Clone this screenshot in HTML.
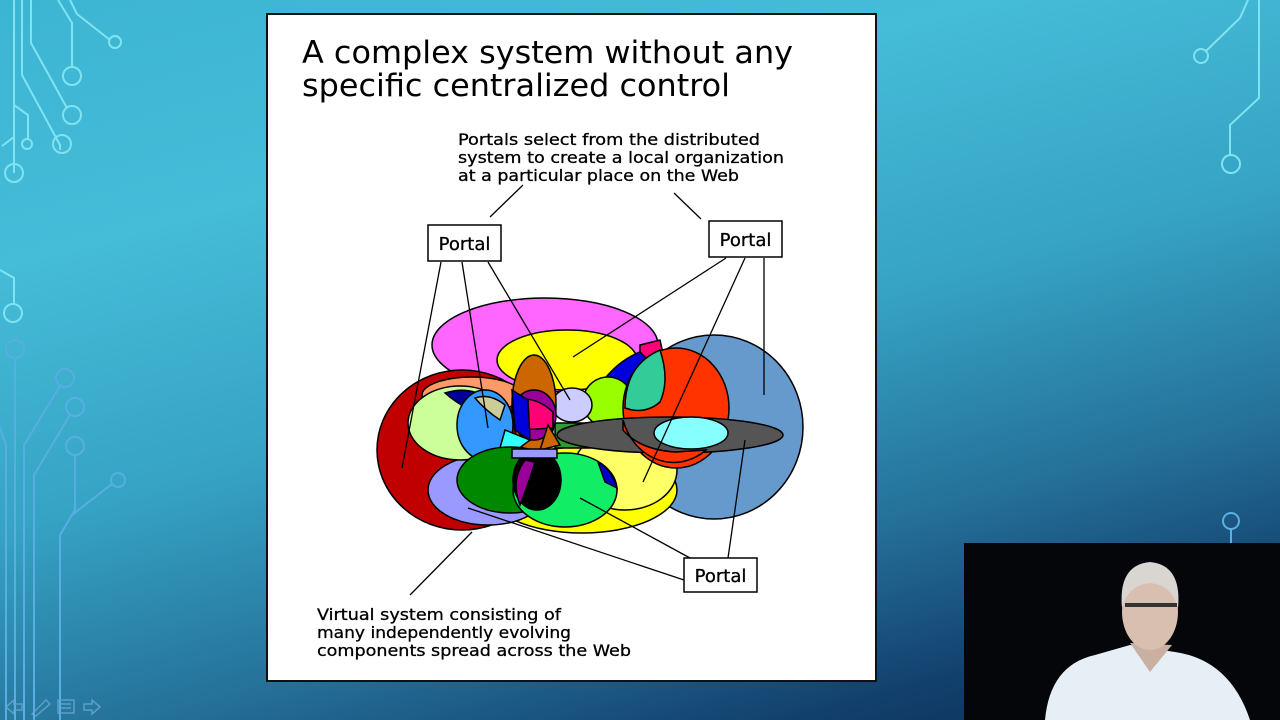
<!DOCTYPE html>
<html><head><meta charset="utf-8"><style>
html,body{margin:0;padding:0;width:1280px;height:720px;overflow:hidden}
body{background:linear-gradient(165deg,#3cb5d3 0%,#45bcd8 25%,#36a3c4 50%,#246f98 72%,#123f6c 88%,#0c2c55 100%)}
svg{position:absolute;left:0;top:0}
</style></head><body>
<svg width="1280" height="720" viewBox="0 0 1280 720" xmlns="http://www.w3.org/2000/svg">
<g fill="none" stroke="#7fe3f2" stroke-width="2">
<path d="M14 0 V173"/><circle cx="14" cy="173" r="9"/>
<path d="M22 0 V75 L60 145 V150"/><circle cx="62" cy="144" r="9"/>
<path d="M31 0 V43 L67 108"/><circle cx="72" cy="115" r="9"/>
<path d="M58 0 L72 23 V67"/><circle cx="72" cy="76" r="9"/>
<path d="M70 0 L77 14 L110 40"/><circle cx="115" cy="42" r="6"/>
<path d="M14 105 L28 115 V140"/><circle cx="27" cy="144" r="5"/>
<path d="M14 137 L2 146"/>
<path d="M0 270 L14 278 V305"/><circle cx="13" cy="313" r="9"/>
</g>
<g fill="none" stroke="#58aee0" stroke-width="2">
<circle cx="15" cy="349" r="9"/><path d="M15 358 V720"/>
<circle cx="65" cy="378" r="9"/><path d="M60 386 L24 445 V720"/>
<circle cx="75" cy="407" r="9"/><path d="M70 415 L34 475 V720"/>
<circle cx="75" cy="446" r="9"/><path d="M75 455 V510 L60 535 V720"/>
<circle cx="118" cy="480" r="7"/><path d="M112 484 L72 515"/>
<path d="M0 428 L6 445 V720"/>
</g>
<g fill="none" stroke="#7fe3f2" stroke-width="2">
<path d="M1248 0 L1240 18 L1205 52"/><circle cx="1201" cy="56" r="7"/>
<path d="M1259 0 V98 L1230 125 V155"/><circle cx="1231" cy="164" r="9"/>
</g>
<g fill="none" stroke="#5ab0e0" stroke-width="2"><circle cx="1231" cy="521" r="8"/><path d="M1231 529 V545"/></g>
<g fill="none" stroke="#6aa8d0" stroke-width="1.5" opacity="0.8">
<path d="M6 707 L14 700 V704 H22 V710 H14 V714 Z"/>
<path d="M32 714 L46 700 L50 704 L36 716 Z"/>
<rect x="58" y="700" width="16" height="13"/><path d="M61 704 H71 M61 708 H71"/>
<path d="M100 707 L92 700 V704 H84 V710 H92 V714 Z"/>
</g>
<rect x="267" y="14" width="609" height="667" fill="#fff" stroke="#111" stroke-width="2"/>
<g font-family="'DejaVu Sans','Liberation Sans',sans-serif" fill="#000">
<text x="302" y="63" font-size="31" textLength="491" lengthAdjust="spacingAndGlyphs">A complex system without any</text>
<text x="302" y="96" font-size="31" textLength="428" lengthAdjust="spacingAndGlyphs">specific centralized control</text>
<g font-size="16" stroke="#000" stroke-width="0.3">
<text x="458" y="145" textLength="302" lengthAdjust="spacingAndGlyphs">Portals select from the distributed</text>
<text x="458" y="163" textLength="326" lengthAdjust="spacingAndGlyphs">system to create a local organization</text>
<text x="458" y="181" textLength="281" lengthAdjust="spacingAndGlyphs">at a particular place on the Web</text>
<text x="317" y="620" textLength="244" lengthAdjust="spacingAndGlyphs">Virtual system consisting of</text>
<text x="317" y="638" textLength="254" lengthAdjust="spacingAndGlyphs">many independently evolving</text>
<text x="317" y="656" textLength="314" lengthAdjust="spacingAndGlyphs">components spread across the Web</text>
</g>
</g>
<g stroke="#000" stroke-width="1.5">
<ellipse cx="714" cy="427" rx="89" ry="92" fill="#6699cc"/>
<ellipse cx="545" cy="345" rx="113" ry="47" fill="#ff66ff"/>
<path d="M640 345 L660 340 L665 362 L640 370 Z" fill="#ff0077"/>
<ellipse cx="462" cy="450" rx="85" ry="80" fill="#c00000"/>
<ellipse cx="582" cy="490" rx="95" ry="43" fill="#ffff00"/>
<ellipse cx="625" cy="470" rx="52" ry="40" fill="#ffff66"/>
<ellipse cx="488" cy="490" rx="60" ry="35" fill="#9999ff"/>
<ellipse cx="472" cy="395" rx="50" ry="18" fill="#ff9966"/>
<ellipse cx="567" cy="360" rx="70" ry="30" fill="#ffff00"/>
<path d="M598 388 Q615 362 640 352 L650 362 Q640 385 600 395 Z" fill="#0000dd"/>
<ellipse cx="608" cy="402" rx="25" ry="25" fill="#99ff00"/>
<ellipse cx="572" cy="405" rx="20" ry="17" fill="#ccccff"/>
<ellipse cx="534" cy="405" rx="22" ry="50" fill="#cc6600"/>
<ellipse cx="534" cy="415" rx="22" ry="25" fill="#990099"/>
<path d="M513 400 Q535 395 553 412 L553 428 L520 430 Z" fill="#ff0077"/>
<ellipse cx="460" cy="423" rx="52" ry="37" fill="#ccff99"/>
<path d="M445 393 Q470 385 490 400 L470 410 Q455 402 445 393 Z" fill="#000099"/>
<ellipse cx="485" cy="425" rx="28" ry="35" fill="#3399ff"/>
<path d="M475 398 Q490 393 505 405 L500 420 Q485 410 475 398 Z" fill="#cccc99"/>
<path d="M512 390 L528 400 L530 440 L515 430 Z" fill="#0000dd"/>
<path d="M505 430 L530 440 L510 455 L500 448 Z" fill="#33ffff"/>
<rect x="555" y="423" width="35" height="25" fill="#339933"/>
<ellipse cx="676" cy="408" rx="53" ry="60" fill="#ff3300"/>
<path d="M625 408 Q625 365 660 350 Q670 380 660 402 Q645 415 625 408 Z" fill="#33cc99"/>
<ellipse cx="670" cy="435" rx="113" ry="18" fill="#555555"/>
<path d="M623 420 A53 60 0 0 0 706 450 L676 452 Q640 450 623 430 Z" fill="#ff3300"/>
<ellipse cx="691" cy="433" rx="37" ry="16" fill="#88ffff"/>
<path d="M548 425 L560 445 L540 450 Z" fill="#cc6600"/>
<ellipse cx="510" cy="480" rx="53" ry="33" fill="#008800"/>
<ellipse cx="565" cy="490" rx="52" ry="37" fill="#11ee66"/>
<path d="M598 462 Q612 470 617 488 L605 482 Z" fill="#0000cc"/>
<ellipse cx="537" cy="480" rx="24" ry="30" fill="#000"/>
<path d="M525 460 Q510 480 520 505 Q528 485 535 462 Z" fill="#990099"/>
<rect x="512" y="449" width="45" height="9" fill="#9999ff"/>
</g>
<g stroke="#000" stroke-width="1.3" fill="none">
<line x1="490" y1="217" x2="523" y2="185"/>
<line x1="674" y1="193" x2="701" y2="219"/>
<line x1="410" y1="595" x2="472" y2="532"/>
<line x1="441" y1="262" x2="402" y2="468"/>
<line x1="462" y1="262" x2="488" y2="428"/>
<line x1="488" y1="262" x2="570" y2="400"/>
<line x1="726" y1="258" x2="573" y2="357"/>
<line x1="745" y1="258" x2="643" y2="482"/>
<line x1="764" y1="258" x2="764" y2="395"/>
<line x1="684" y1="580" x2="468" y2="508"/>
<line x1="690" y1="558" x2="580" y2="498"/>
<line x1="728" y1="558" x2="745" y2="440"/>
</g>
<g font-family="'DejaVu Sans','Liberation Sans',sans-serif" font-size="18" fill="#000" stroke="#000" stroke-width="0.3">
<rect x="428" y="225" width="73" height="36" fill="#fff" stroke="#000" stroke-width="1.5"/>
<text x="464.5" y="250" text-anchor="middle">Portal</text>
<rect x="709" y="221" width="73" height="36" fill="#fff" stroke="#000" stroke-width="1.5"/>
<text x="745.5" y="246" text-anchor="middle">Portal</text>
<rect x="684" y="558" width="73" height="34" fill="#fff" stroke="#000" stroke-width="1.5"/>
<text x="720.5" y="582" text-anchor="middle">Portal</text>
</g>
<rect x="964" y="543" width="316" height="177" fill="#04060a"/>
<g>
<path d="M1045 720 Q1050 665 1095 655 L1130 645 L1175 652 Q1230 660 1250 720 Z" fill="#e6eef6"/>
<path d="M1130 643 L1150 672 L1172 645 Z" fill="#c9b0a0"/>
<ellipse cx="1150" cy="612" rx="28" ry="38" fill="#d8bfb0"/>
<path d="M1122 608 Q1118 565 1150 562 Q1182 565 1178 608 Q1172 585 1150 583 Q1128 585 1122 608 Z" fill="#d9d6d2"/>
<path d="M1125 605 H1177" stroke="#333" stroke-width="4"/>
</g>
</svg>
</body></html>
